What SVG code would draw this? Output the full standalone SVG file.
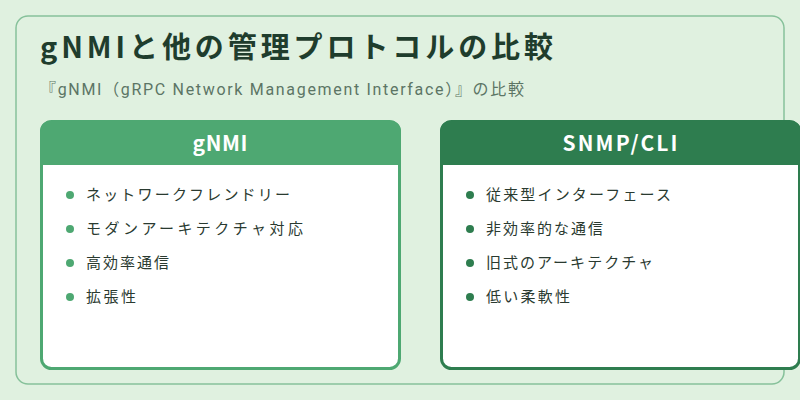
<svg xmlns="http://www.w3.org/2000/svg" width="800" height="400" viewBox="0 0 800 400">
<style>
text{font-family:"Noto Sans CJK JP","Noto Sans",sans-serif}
.t{font-size:29px;font-weight:bold;fill:#1f3d2d}
.s{font-size:16px;fill:#5c7565;font-family:Roboto,"Noto Sans CJK JP",sans-serif}
.h{font-size:21px;font-weight:bold;fill:#fff;text-anchor:middle}
.i{font-size:15px;fill:#2a3a30}
</style>
<rect width="800" height="400" fill="#e0f1e0"/>
<rect x="16" y="16" width="768" height="368" rx="12" fill="#e0f1e0" stroke="#86c19a" stroke-width="1.5"/>
<text class="t" x="40" y="58" textLength="513" lengthAdjust="spacing">gNMIと他の管理プロトコルの比較</text>
<text class="s" x="40" y="95" textLength="484" lengthAdjust="spacing">『gNMI（gRPC Network Management Interface）』の比較</text>
<g id="gnmi">
<rect x="41.5" y="121.5" width="358" height="247" rx="10" fill="#fff" stroke="#4ea872" stroke-width="3"/>
<path d="M40 165V131a10 10 0 0 1 10-10h341a10 10 0 0 1 10 10v34z" fill="#4ea872"/>
<text class="h" x="220" y="151" textLength="55" lengthAdjust="spacing">gNMI</text>
<g fill="#4ea872"><circle cx="70" cy="195" r="4"/><circle cx="70" cy="229" r="4"/><circle cx="70" cy="263" r="4"/><circle cx="70" cy="297" r="4"/></g>
<text class="i" x="86" y="200" textLength="204" lengthAdjust="spacing">ネットワークフレンドリー</text>
<text class="i" x="86" y="234" textLength="217" lengthAdjust="spacing">モダンアーキテクチャ対応</text>
<text class="i" x="86" y="268" textLength="83" lengthAdjust="spacing">高効率通信</text>
<text class="i" x="86" y="302" textLength="50" lengthAdjust="spacing">拡張性</text>
</g>
<g id="snmp">
<rect x="441.5" y="121.5" width="358" height="247" rx="10" fill="#fff" stroke="#2e7d4f" stroke-width="3"/>
<path d="M440 165V131a10 10 0 0 1 10-10h341a10 10 0 0 1 10 10v34z" fill="#2e7d4f"/>
<text class="h" x="620" y="151" textLength="115" lengthAdjust="spacing">SNMP/CLI</text>
<g fill="#2e7d4f"><circle cx="470" cy="195" r="4"/><circle cx="470" cy="229" r="4"/><circle cx="470" cy="263" r="4"/><circle cx="470" cy="297" r="4"/></g>
<text class="i" x="486" y="200" textLength="185" lengthAdjust="spacing">従来型インターフェース</text>
<text class="i" x="486" y="234" textLength="117" lengthAdjust="spacing">非効率的な通信</text>
<text class="i" x="486" y="268" textLength="167" lengthAdjust="spacing">旧式のアーキテクチャ</text>
<text class="i" x="486" y="302" textLength="84" lengthAdjust="spacing">低い柔軟性</text>
</g>
<g id="connectors"/>
</svg>
